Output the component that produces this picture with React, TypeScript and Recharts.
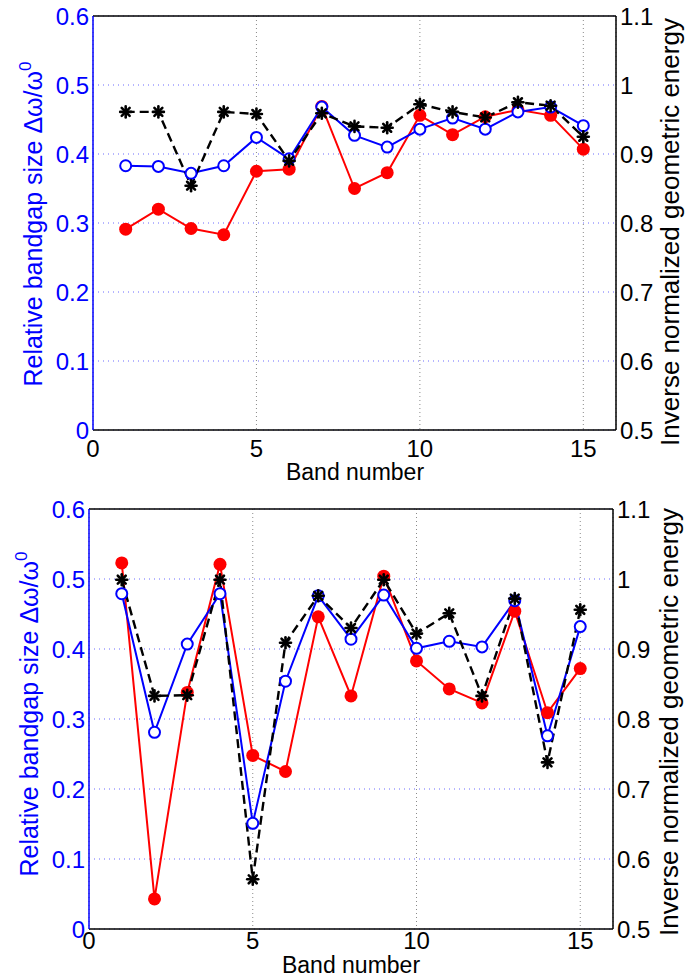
import React from 'react';
import { CartesianGrid, Line, LineChart, ReferenceLine, XAxis, YAxis } from 'recharts';

// band index shared by both panels
const bands = [1, 2, 3, 4, 5, 6, 7, 8, 9, 10, 11, 12, 13, 14, 15];

// upper panel
const topBlue = [0.383, 0.382, 0.372, 0.383, 0.424, 0.393, 0.468, 0.427, 0.41, 0.436, 0.452, 0.436, 0.461, 0.468, 0.441];
const topRed = [0.291, 0.32, 0.292, 0.283, 0.375, 0.378, 0.469, 0.35, 0.373, 0.456, 0.428, 0.454, 0.464, 0.456, 0.407];
const topBlack = [0.961, 0.961, 0.854, 0.961, 0.958, 0.89, 0.959, 0.94, 0.938, 0.972, 0.961, 0.953, 0.975, 0.97, 0.925];

// lower panel
const bottomBlue = [0.479, 0.281, 0.407, 0.479, 0.151, 0.354, 0.476, 0.414, 0.477, 0.401, 0.411, 0.403, 0.469, 0.276, 0.432];
const bottomRed = [0.523, 0.043, 0.338, 0.521, 0.248, 0.225, 0.446, 0.333, 0.504, 0.383, 0.343, 0.323, 0.454, 0.309, 0.372];
const bottomBlack = [0.999, 0.833, 0.834, 0.999, 0.571, 0.909, 0.976, 0.93, 0.999, 0.922, 0.951, 0.833, 0.972, 0.738, 0.956];

const xTicks = [0, 5, 10, 15];
const leftTicks = [0, 0.1, 0.2, 0.3, 0.4, 0.5, 0.6];
const rightTicks = [0.5, 0.6, 0.7, 0.8, 0.9, 1, 1.1];

const FONT = '"Liberation Sans", Arial, Helvetica, sans-serif';
const BLUE = '#0000ff';
const RED = '#ff0000';

const fmt = (v: number) => String(Math.round(v * 10) / 10);

const Star = ({ cx, cy }: { cx?: number; cy?: number }) => {
  if (cx == null || cy == null) return null;
  const r = 5.5;
  const d = r * 0.72;
  return (
    <g stroke="#000" strokeWidth={2.6} strokeLinecap="round">
      <line x1={cx - r} y1={cy} x2={cx + r} y2={cy} />
      <line x1={cx} y1={cy - r} x2={cx} y2={cy + r} />
      <line x1={cx - d} y1={cy - d} x2={cx + d} y2={cy + d} />
      <line x1={cx - d} y1={cy + d} x2={cx + d} y2={cy - d} />
    </g>
  );
};

interface PanelProps {
  blue: number[];
  red: number[];
  black: number[];
  height: number;
  top: number;
  leftWidth: number;
  rightWidth: number;
  xHeight: number;
  xMargin: number;
}

const Panel: React.FC<PanelProps> = ({ blue, red, black, height, top, leftWidth, rightWidth, xHeight, xMargin }) => {
  const data = bands.map((b, i) => ({ band: b, blue: blue[i], red: red[i], black: black[i] }));
  return (
    <LineChart width={688} height={height} data={data} margin={{ top, right: 0, bottom: 0, left: 0 }}>
      <CartesianGrid yAxisId="left" vertical={false} stroke="#6a6aff" strokeDasharray="1 4" />
      <CartesianGrid yAxisId="left" horizontal={false} stroke="#8a8a8a" strokeDasharray="1 3" />
      <XAxis
        dataKey="band"
        type="number"
        domain={[0, 16]}
        ticks={xTicks}
        height={xHeight}
        tickLine={false}
        tickSize={0}
        tickMargin={xMargin}
        axisLine={{ stroke: '#000', strokeWidth: 1.5 }}
        tick={{ fill: '#000', fontSize: 24, fontFamily: FONT }}
        allowDataOverflow
      />
      <YAxis
        yAxisId="left"
        type="number"
        domain={[0, 0.6]}
        ticks={leftTicks}
        tickFormatter={fmt}
        width={leftWidth}
        tickLine={false}
        tickSize={0}
        tickMargin={4}
        axisLine={{ stroke: BLUE, strokeWidth: 1.5 }}
        tick={{ fill: BLUE, fontSize: 24, fontFamily: FONT }}
        allowDataOverflow
      />
      <YAxis
        yAxisId="right"
        orientation="right"
        type="number"
        domain={[0.5, 1.1]}
        ticks={rightTicks}
        tickFormatter={fmt}
        width={rightWidth}
        tickLine={false}
        tickSize={0}
        tickMargin={4}
        axisLine={{ stroke: '#000', strokeWidth: 1.5 }}
        tick={{ fill: '#000', fontSize: 24, fontFamily: FONT }}
        allowDataOverflow
      />
      <ReferenceLine yAxisId="left" y={0.6} stroke="#000" strokeWidth={1.5} />
      <Line
        yAxisId="left"
        dataKey="red"
        stroke={RED}
        strokeWidth={2}
        dot={{ r: 6.5, fill: RED, stroke: RED, strokeWidth: 0 }}
        activeDot={false}
        isAnimationActive={false}
      />
      <Line
        yAxisId="left"
        dataKey="blue"
        stroke={BLUE}
        strokeWidth={2}
        dot={{ r: 5.5, fill: '#fff', stroke: BLUE, strokeWidth: 2 }}
        activeDot={false}
        isAnimationActive={false}
      />
      <Line
        yAxisId="right"
        dataKey="black"
        stroke="#000"
        strokeWidth={2.4}
        strokeDasharray="9 5"
        dot={(p: any) => <Star key={`s-${p.index}`} cx={p.cx} cy={p.cy} />}
        activeDot={false}
        isAnimationActive={false}
      />
    </LineChart>
  );
};

const LeftTitle = ({ x, y }: { x: number; y: number }) => (
  <text
    transform={`translate(${x},${y}) rotate(-90)`}
    textAnchor="middle"
    fill={BLUE}
    fontSize={25}
    fontFamily={FONT}
  >
    Relative bandgap size Δω/ω
    <tspan dy={-11} fontSize={17}>0</tspan>
  </text>
);

const RightTitle = ({ x, y }: { x: number; y: number }) => (
  <text
    transform={`translate(${x},${y}) rotate(-90)`}
    textAnchor="middle"
    fill="#000"
    fontSize={26}
    fontFamily={FONT}
  >
    Inverse normalized geometric energy
  </text>
);

const BottomTitle = ({ x, y }: { x: number; y: number }) => (
  <text x={x} y={y} textAnchor="middle" fill="#000" fontSize={23} fontFamily={FONT}>
    Band number
  </text>
);

export default function App() {
  return (
    <div style={{ position: 'absolute', left: 0, top: 0, width: 688, height: 977, background: '#fff' }}>
      <div style={{ position: 'absolute', left: 0, top: 0 }}>
        <Panel blue={topBlue} red={topRed} black={topBlack} height={490} top={16} leftWidth={93} rightWidth={72} xHeight={60} xMargin={10} />
      </div>
      <div style={{ position: 'absolute', left: 0, top: 490 }}>
        <Panel blue={bottomBlue} red={bottomRed} black={bottomBlack} height={487} top={19} leftWidth={89} rightWidth={75} xHeight={48} xMargin={3} />
      </div>
      <svg width={688} height={977} style={{ position: 'absolute', left: 0, top: 0, pointerEvents: 'none' }}>
        <LeftTitle x={42} y={224} />
        <RightTitle x={679} y={232} />
        <BottomTitle x={355} y={480} />
        <LeftTitle x={38} y={714} />
        <RightTitle x={678} y={722} />
        <BottomTitle x={351} y={973} />
      </svg>
    </div>
  );
}
